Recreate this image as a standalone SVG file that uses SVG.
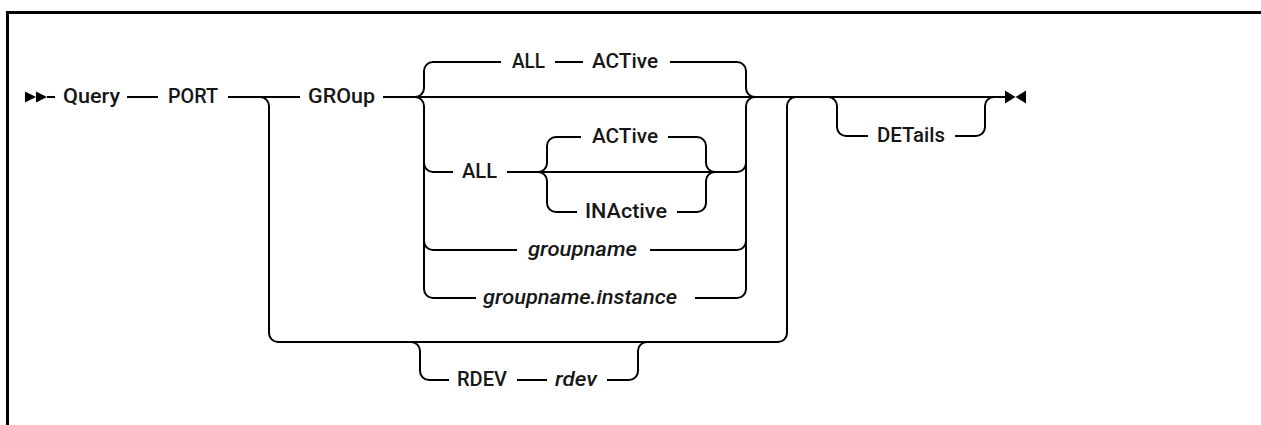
<svg xmlns="http://www.w3.org/2000/svg" width="1261" height="425" viewBox="0 0 1261 425">
<style>
.ln{fill:none;stroke:#000;stroke-width:2}
.t{font-family:Roboto,"Liberation Sans",sans-serif;font-weight:500;font-size:20px;fill:#161616;text-anchor:middle}
.i{font-style:italic}
</style>
<rect width="1261" height="425" fill="#fff"/>
<path d="M7.5 425 V12.5 H1261" fill="none" stroke="#000" stroke-width="3"/>
<g id="connectors">
<path class="ln" d="M47 97 H55 M127 97 H158 M228 97 H300 M383 97 H1005"/>
<path class="ln" d="M260 97 A9 9 0 0 1 269 106 V333 A9 9 0 0 0 278 342 H778 A9 9 0 0 0 787 333 V106 A9 9 0 0 1 796 97"/>
<path class="ln" d="M415 97 A9 9 0 0 0 424 88 V71 A9 9 0 0 1 433 62 H501 M555 62 H583 M670 62 H737 A9 9 0 0 1 746 71 V88 A9 9 0 0 0 755 97"/>
<path class="ln" d="M415 97 A9 9 0 0 1 424 106 V289 A9 9 0 0 0 433 298 H476 M424 163 A9 9 0 0 0 433 172 H453 M424 241 A9 9 0 0 0 433 250 H517"/>
<path class="ln" d="M695 298 H737 A9 9 0 0 0 746 289 V106 A9 9 0 0 1 755 97 M737 172 A9 9 0 0 0 746 163 M650 250 H737 A9 9 0 0 0 746 241"/>
<path class="ln" d="M507 172 H737"/>
<path class="ln" d="M538 172 A9 9 0 0 0 547 163 V146 A9 9 0 0 1 556 137 H581 M668 137 H697 A9 9 0 0 1 706 146 V163 A9 9 0 0 0 715 172"/>
<path class="ln" d="M538 172 A9 9 0 0 1 547 181 V203 A9 9 0 0 0 556 212 H577 M677 212 H697 A9 9 0 0 0 706 203 V181 A9 9 0 0 1 715 172"/>
<path class="ln" d="M411 342 A9 9 0 0 1 420 351 V371 A9 9 0 0 0 429 380 H449 M517 380 H547 M607 380 H629 A9 9 0 0 0 638 371 V351 A9 9 0 0 1 647 342"/>
<path class="ln" d="M828 97 A9 9 0 0 1 837 106 V127 A9 9 0 0 0 846 136 H868 M955 136 H976 A9 9 0 0 0 985 127 V106 A9 9 0 0 1 994 97"/>
<polygon points="25,91.5 36,97 25,102.5"/>
<polygon points="36,91.5 47,97 36,102.5"/>
<polygon points="1005,90.5 1015.5,97 1005,103.5"/>
<polygon points="1026,90.5 1015.5,97 1026,103.5"/>
</g>
<g id="n-query"><text class="t" x="91.5" y="103" textLength="57" lengthAdjust="spacingAndGlyphs">Query</text></g>
<g id="n-port"><text class="t" x="193" y="103" textLength="50" lengthAdjust="spacingAndGlyphs">PORT</text></g>
<g id="n-group"><text class="t" x="341.5" y="103" textLength="67" lengthAdjust="spacingAndGlyphs">GROup</text></g>
<g id="n-all1"><text class="t" x="528.5" y="68" textLength="33" lengthAdjust="spacingAndGlyphs">ALL</text></g>
<g id="n-active1"><text class="t" x="625" y="68" textLength="66" lengthAdjust="spacingAndGlyphs">ACTive</text></g>
<g id="n-all2"><text class="t" x="479.5" y="178" textLength="35" lengthAdjust="spacingAndGlyphs">ALL</text></g>
<g id="n-active2"><text class="t" x="625" y="143" textLength="66" lengthAdjust="spacingAndGlyphs">ACTive</text></g>
<g id="n-inactive"><text class="t" x="626" y="218" textLength="82" lengthAdjust="spacingAndGlyphs">INActive</text></g>
<g id="n-groupname"><text class="t i" x="582.5" y="256" textLength="109" lengthAdjust="spacingAndGlyphs">groupname</text></g>
<g id="n-groupname-instance"><text class="t i" x="580" y="304" textLength="194" lengthAdjust="spacingAndGlyphs">groupname.instance</text></g>
<g id="n-rdev"><text class="t" x="482" y="386" textLength="50" lengthAdjust="spacingAndGlyphs">RDEV</text></g>
<g id="n-rdev-var"><text class="t i" x="576" y="386" textLength="42" lengthAdjust="spacingAndGlyphs">rdev</text></g>
<g id="n-details"><text class="t" x="911" y="142" textLength="68" lengthAdjust="spacingAndGlyphs">DETails</text></g>
</svg>
